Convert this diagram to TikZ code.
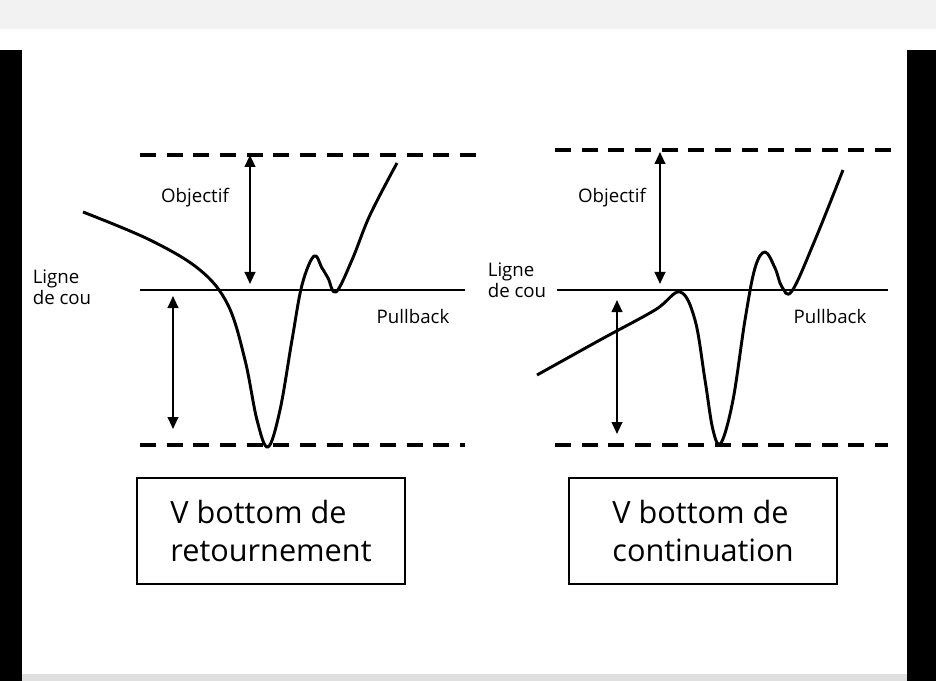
\documentclass[tikz,border=0pt]{standalone}
\usepackage{fontspec}
\usetikzlibrary{arrows.meta}
\setmainfont{Open Sans}
\begin{document}
\begin{tikzpicture}[x=0.75pt,y=-0.75pt,
  lw/.style={line width=2.2pt},
  dsh/.style={line width=2.4pt,dash pattern=on 12pt off 8pt},
  arr/.style={line width=1.5pt,{Triangle[length=9pt,width=8pt]}-{Triangle[length=9pt,width=8pt]}},
  lab/.style={font=\fontsize{14}{16}\selectfont,align=center},
  bigbox/.style={draw,line width=1.3pt,minimum width=201pt,minimum height=80pt,align=left,font=\fontsize{23}{28}\selectfont}]
\useasboundingbox (0,0) rectangle (936,681);
\fill[gray!10] (0,0) rectangle (936,29);
\fill[black] (0,50) rectangle (22,681);
\fill[black] (907,50) rectangle (936,681);
\fill[gray!25] (22,674) rectangle (907,681);
% left
\draw[dsh] (140,155) -- (480,155);
\draw[lw] (140,290) -- (465,290);
\draw[dsh] (140,445) -- (465,445);
\coordinate (a1) at (250,155); \coordinate (a2) at (250,284);
\draw[arr] (a1) -- (a2);
\coordinate (b1) at (173,296); \coordinate (b2) at (173,429);
\draw[arr] (b1) -- (b2);
\node[lab] (obj1) at (195,198) {Objectif};
\node[lab,align=left] (lig1) at (62,287) {Ligne\\de cou};
\node[lab] (pb1) at (413,317) {Pullback};
\draw[lw,line join=round] plot[smooth,tension=0.6] coordinates {(83,212) (150,240) (200,270) (228,305) (245,360) (257,420) (268,447) (280,410) (292,340) (302,285) (314,256) (322,268) (328,278) (336,292) (352,260) (370,215) (397,163)};
\node[bigbox] (box1) at (271,531) {V bottom de\\retournement};
% right
\draw[dsh] (555,150) -- (895,150);
\draw[lw] (557,290) -- (888,290);
\draw[dsh] (555,445) -- (888,445);
\coordinate (c1) at (660,152); \coordinate (c2) at (660,284);
\draw[arr] (c1) -- (c2);
\coordinate (d1) at (617,300); \coordinate (d2) at (617,434);
\draw[arr] (d1) -- (d2);
\node[lab] (obj2) at (612,198) {Objectif};
\node[lab,align=left] (lig2) at (517,280) {Ligne\\de cou};
\node[lab] (pb2) at (830,317) {Pullback};
\draw[lw,line join=round] plot[smooth,tension=0.6] coordinates {(537,375) (600,340) (655,310) (680,292) (695,320) (705,380) (713,430) (721,443) (733,400) (745,320) (755,268) (765,252) (775,268) (782,287) (792,291) (815,240) (843,170)};
\node[bigbox] (box2) at (703,531) {V bottom de\\continuation};
\end{tikzpicture}
\end{document}
